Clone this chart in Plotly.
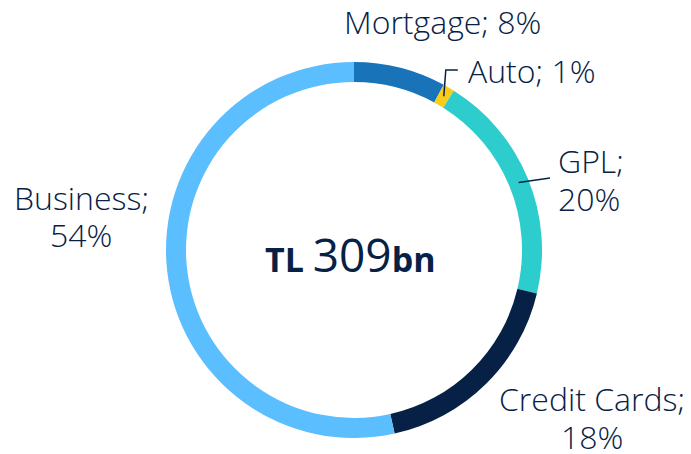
import numpy as np
import plotly.graph_objects as go

labels = ["Mortgage", "Auto", "GPL", "Credit Cards", "Business"]
shares = [8, 1, 20, 18, 54]
colors = ["#1973B8", "#F8CD1A", "#2DCCCD", "#072146", "#5BBEFF"]
tl, num, unit = "TL", "309", "bn"

# the page body has an 8px margin, so screen coords are shifted by OFF
OFF = 8
W, H = 691 - OFF, 454 - OFF
cx, cy, r_out = 354, 250, 188
ring = 20

txt_col = "#072146"
label_font = dict(family="Open Sans", size=32, color=txt_col, weight=300)


def px(x, y):
    # screen pixel -> paper coords
    return (x - OFF) / W, 1 - (y - OFF) / H


d0 = px(cx - r_out, cy + r_out)
d1 = px(cx + r_out, cy - r_out)

fig = go.Figure(
    go.Pie(
        labels=labels,
        values=shares,
        sort=False,
        direction="clockwise",
        rotation=0,
        hole=(r_out - ring) / r_out,
        marker=dict(colors=colors, line=dict(width=0)),
        textinfo="none",
        hoverinfo="label+percent",
        showlegend=False,
        domain=dict(x=[d0[0], d1[0]], y=[d0[1], d1[1]]),
    )
)

# leader lines start at the middle of the ring, at the slice's mid angle
cum = np.cumsum(shares) - np.array(shares) / 2
mid_ang = cum / sum(shares) * 2 * np.pi
r_mid = r_out - ring / 2


def ring_point(i):
    return cx + r_mid * np.sin(mid_ang[i]), cy - r_mid * np.cos(mid_ang[i])


shapes = []
ax_, ay_ = ring_point(1)
p0 = px(ax_, ay_)
p1 = px(ax_ + 2, 70)
p2 = px(ax_ + 14, 70)
shapes.append(dict(type="path", xref="paper", yref="paper",
                   path=f"M {p0[0]} {p0[1]} L {p1[0]} {p1[1]} L {p2[0]} {p2[1]}",
                   line=dict(color=txt_col, width=1.5)))
gx, gy = ring_point(2)
q0 = px(gx, gy)
q1 = px(550, 178)
shapes.append(dict(type="line", xref="paper", yref="paper",
                   x0=q0[0], y0=q0[1], x1=q1[0], y1=q1[1],
                   line=dict(color=txt_col, width=1.5)))

annotations = []


def lab(text, x, y, xanchor):
    xx, yy = px(x, y)
    annotations.append(dict(text=text, x=xx, y=yy, xref="paper", yref="paper",
                            xanchor=xanchor, yanchor="middle",
                            showarrow=False, font=label_font))


# each label line is its own annotation so the line spacing can be tight
lab(f"{labels[0]}; {shares[0]}%", 342, 22, "left")
lab(f"{labels[1]}; {shares[1]}%", 466, 71, "left")
lab(f"{labels[2]};", 556, 160, "left")
lab(f"{shares[2]}%", 556, 198, "left")
lab(f"{labels[3]};", 592, 398, "center")
lab(f"{shares[3]}%", 592, 436, "center")
lab(f"{labels[4]};", 81, 197, "center")
lab(f"{shares[4]}%", 81, 234, "center")

cxp, cyp = px(350, 254)
annotations.append(dict(
    text=f"<b>{tl}</b> <span style='font-size:46px;font-weight:400'>{num}</span><b>{unit}</b>",
    x=cxp, y=cyp, xref="paper", yref="paper", xanchor="center", yanchor="middle",
    showarrow=False, font=dict(family="Open Sans", size=34, color=txt_col)))

fig.update_layout(
    width=W, height=H,
    margin=dict(l=0, r=0, t=0, b=0),
    paper_bgcolor="white",
    plot_bgcolor="white",
    shapes=shapes,
    annotations=annotations,
)

fig.write_html("out.html")
